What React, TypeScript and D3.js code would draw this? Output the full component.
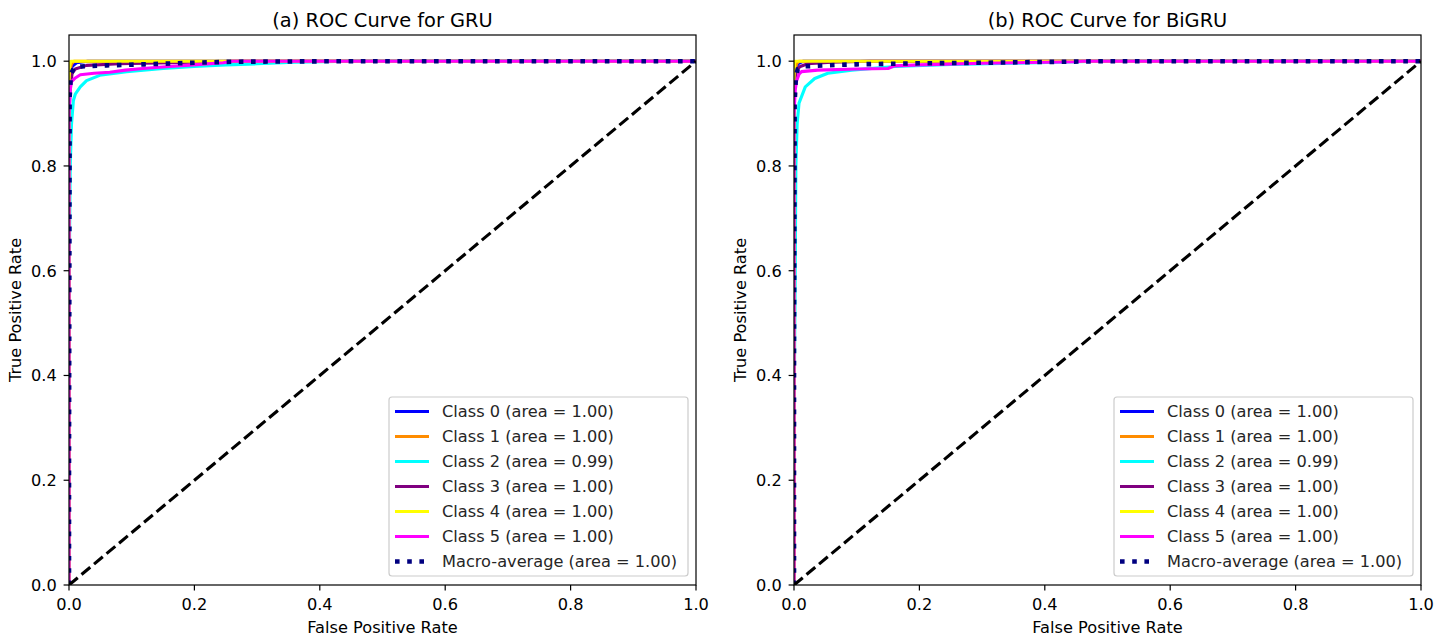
import React, { useEffect, useRef } from 'react';
import * as d3 from 'd3';

// ROC points: [false positive rate, true positive rate]
const gruClass0 = [[0, 0], [0, 0.93], [0.002, 0.975], [0.005, 0.99], [0.012, 0.997], [0.03, 1.0], [1, 1]];
const gruClass1 = [[0, 0], [0, 0.95], [0.001, 0.98], [0.004, 0.995], [0.008, 1.0], [1, 1]];
const gruClass2 = [[0, 0], [0, 0.55], [0.002, 0.8], [0.004, 0.88], [0.007, 0.925], [0.01, 0.937], [0.018, 0.951], [0.028, 0.963], [0.049, 0.973], [0.092, 0.98], [0.15, 0.986], [0.2, 0.99], [0.25, 0.993], [0.3, 0.995], [0.36, 0.998], [0.45, 1.0], [1, 1]];
const gruClass3 = [[0, 0], [0, 0.9], [0.002, 0.95], [0.005, 0.977], [0.01, 0.985], [0.028, 0.992], [0.08, 0.995], [0.2, 0.998], [0.26, 1.0], [1, 1]];
const gruClass4 = [[0, 0], [0, 0.96], [0.001, 0.99], [0.003, 1.0], [1, 1]];
const gruClass5 = [[0, 0], [0, 0.9], [0.002, 0.945], [0.004, 0.961], [0.01, 0.968], [0.018, 0.974], [0.04, 0.977], [0.065, 0.979], [0.09, 0.983], [0.118, 0.986], [0.16, 0.99], [0.198, 0.993], [0.246, 0.997], [0.26, 1.0], [1, 1]];
const gruMacro = [[0, 0], [0, 0.23], [0.001, 0.93], [0.003, 0.975], [0.008, 0.988], [0.02, 0.99], [0.06, 0.992], [0.12, 0.994], [0.2, 0.997], [0.26, 0.999], [0.45, 1.0], [1, 1]];

const bigruClass0 = [[0, 0], [0, 0.94], [0.002, 0.98], [0.006, 0.995], [0.015, 1.0], [1, 1]];
const bigruClass1 = [[0, 0], [0, 0.95], [0.001, 0.975], [0.004, 0.995], [0.008, 1.0], [1, 1]];
const bigruClass2 = [[0, 0], [0, 0.3], [0.002, 0.6], [0.003, 0.8], [0.005, 0.88], [0.008, 0.92], [0.018, 0.951], [0.033, 0.967], [0.054, 0.977], [0.092, 0.983], [0.161, 0.99], [0.25, 0.994], [0.35, 0.996], [0.45, 0.999], [0.5, 1.0], [1, 1]];
const bigruClass3 = [[0, 0], [0, 0.93], [0.002, 0.965], [0.004, 0.983], [0.01, 0.99], [0.022, 0.995], [0.06, 0.998], [0.12, 1.0], [1, 1]];
const bigruClass4 = [[0, 0], [0, 0.97], [0.001, 0.995], [0.002, 1.0], [1, 1]];
const bigruClass5 = [[0, 0], [0, 0.9], [0.002, 0.945], [0.004, 0.962], [0.008, 0.975], [0.012, 0.98], [0.038, 0.983], [0.1, 0.985], [0.15, 0.986], [0.16, 0.991], [0.2, 0.993], [0.3, 0.996], [0.45, 0.999], [0.46, 1.0], [1, 1]];
const bigruMacro = [[0, 0], [0, 0.45], [0.001, 0.92], [0.003, 0.97], [0.006, 0.985], [0.015, 0.99], [0.05, 0.992], [0.1, 0.994], [0.2, 0.996], [0.3, 0.997], [0.5, 1.0], [1, 1]];

const classNames = ['Class 0', 'Class 1', 'Class 2', 'Class 3', 'Class 4', 'Class 5'];
const classColors = ['blue', 'darkorange', 'aqua', 'purple', 'yellow', 'magenta'];
const gruAreas = ['1.00', '1.00', '0.99', '1.00', '1.00', '1.00'];
const bigruAreas = ['1.00', '1.00', '0.99', '1.00', '1.00', '1.00'];
const macroAreas = ['1.00', '1.00'];
const ticks = [0, 0.2, 0.4, 0.6, 0.8, 1.0];

const FONT = 'DejaVu Sans, sans-serif';
const FS = 16.2;

const App = () => {
  const ref = useRef(null);

  useEffect(() => {
    const svg = d3.select(ref.current);
    svg.selectAll('*').remove();

    const panels = [
      { id: 'a', title: '(a) ROC Curve for GRU', x0: 69, x1: 696, curves: [gruClass0, gruClass1, gruClass2, gruClass3, gruClass4, gruClass5], macro: gruMacro, areas: gruAreas, macroArea: macroAreas[0] },
      { id: 'b', title: '(b) ROC Curve for BiGRU', x0: 794, x1: 1421, curves: [bigruClass0, bigruClass1, bigruClass2, bigruClass3, bigruClass4, bigruClass5], macro: bigruMacro, areas: bigruAreas, macroArea: macroAreas[1] },
    ];
    const top = 35, bottom = 585;

    panels.forEach(p => {
      const x = d3.scaleLinear().domain([0, 1]).range([p.x0, p.x1]);
      const y = d3.scaleLinear().domain([0, 1.05]).range([bottom, top]);
      const g = svg.append('g');

      g.append('clipPath').attr('id', 'clip-' + p.id)
        .append('rect').attr('x', p.x0).attr('y', top).attr('width', p.x1 - p.x0).attr('height', bottom - top);

      const line = d3.line().x(d => x(d[0])).y(d => y(d[1]));
      const plot = g.append('g').attr('clip-path', `url(#clip-${p.id})`);

      p.curves.forEach((c, i) => {
        plot.append('path').attr('d', line(c)).attr('fill', 'none')
          .attr('stroke', classColors[i]).attr('stroke-width', 3.1).attr('stroke-linejoin', 'round');
      });
      plot.append('path').attr('d', line(p.macro)).attr('fill', 'none')
        .attr('stroke', 'navy').attr('stroke-width', 4.6).attr('stroke-dasharray', '4.6 7.6');
      plot.append('path').attr('d', line([[0, 0], [1, 1]])).attr('fill', 'none')
        .attr('stroke', 'black').attr('stroke-width', 3.1).attr('stroke-dasharray', '11.4 4.9');

      // frame
      g.append('rect').attr('x', p.x0).attr('y', top).attr('width', p.x1 - p.x0).attr('height', bottom - top)
        .attr('fill', 'none').attr('stroke', 'black').attr('stroke-width', 1.2);

      ticks.forEach(t => {
        g.append('line').attr('x1', x(t)).attr('x2', x(t)).attr('y1', bottom).attr('y2', bottom + 5.4)
          .attr('stroke', 'black').attr('stroke-width', 1.2);
        g.append('text').attr('x', x(t)).attr('y', 609.5).attr('text-anchor', 'middle')
          .attr('font-family', FONT).attr('font-size', FS).attr('fill', 'black').text(d3.format('.1f')(t));
        g.append('line').attr('x1', p.x0 - 5.4).attr('x2', p.x0).attr('y1', y(t)).attr('y2', y(t))
          .attr('stroke', 'black').attr('stroke-width', 1.2);
        g.append('text').attr('x', p.x0 - 12.3).attr('y', y(t)).attr('dy', '0.36em').attr('text-anchor', 'end')
          .attr('font-family', FONT).attr('font-size', FS).attr('fill', 'black').text(d3.format('.1f')(t));
      });

      const cx = (p.x0 + p.x1) / 2;
      g.append('text').attr('x', cx).attr('y', 27).attr('text-anchor', 'middle')
        .attr('font-family', FONT).attr('font-size', 19.4).attr('fill', 'black').text(p.title);
      g.append('text').attr('x', cx).attr('y', 633).attr('text-anchor', 'middle')
        .attr('font-family', FONT).attr('font-size', FS).attr('fill', 'black').text('False Positive Rate');
      g.append('text').attr('transform', `translate(${p.x0 - 48.5},${(top + bottom) / 2}) rotate(-90)`)
        .attr('text-anchor', 'middle').attr('font-family', FONT).attr('font-size', FS).attr('fill', 'black')
        .text('True Positive Rate');

      // legend
      const lx = p.x1 - 307, ly = 397;
      const lg = g.append('g');
      lg.append('rect').attr('x', lx).attr('y', ly).attr('width', 299).attr('height', 179).attr('rx', 3)
        .attr('fill', 'white').attr('fill-opacity', 0.8).attr('stroke', '#cccccc').attr('stroke-width', 1.2);
      const items = classNames.map((n, i) => ({ label: `${n} (area = ${p.areas[i]})`, color: classColors[i], dash: null, w: 3.1 }));
      items.push({ label: `Macro-average (area = ${p.macroArea})`, color: 'navy', dash: '4.6 7.6', w: 4.6 });
      items.forEach((it, i) => {
        const ry = 411.5 + i * 25;
        lg.append('line').attr('x1', lx + 6).attr('x2', lx + 40).attr('y1', ry).attr('y2', ry)
          .attr('stroke', it.color).attr('stroke-width', it.w).attr('stroke-dasharray', it.dash);
        lg.append('text').attr('x', lx + 53).attr('y', ry).attr('dy', '0.36em')
          .attr('font-family', FONT).attr('font-size', FS).attr('fill', '#262626').text(it.label);
      });
    });
  }, []);

  return (
    <svg ref={ref} width={1450} height={637}
      style={{ position: 'absolute', left: 0, top: 0, background: 'white', display: 'block' }} />
  );
};

export default App;
